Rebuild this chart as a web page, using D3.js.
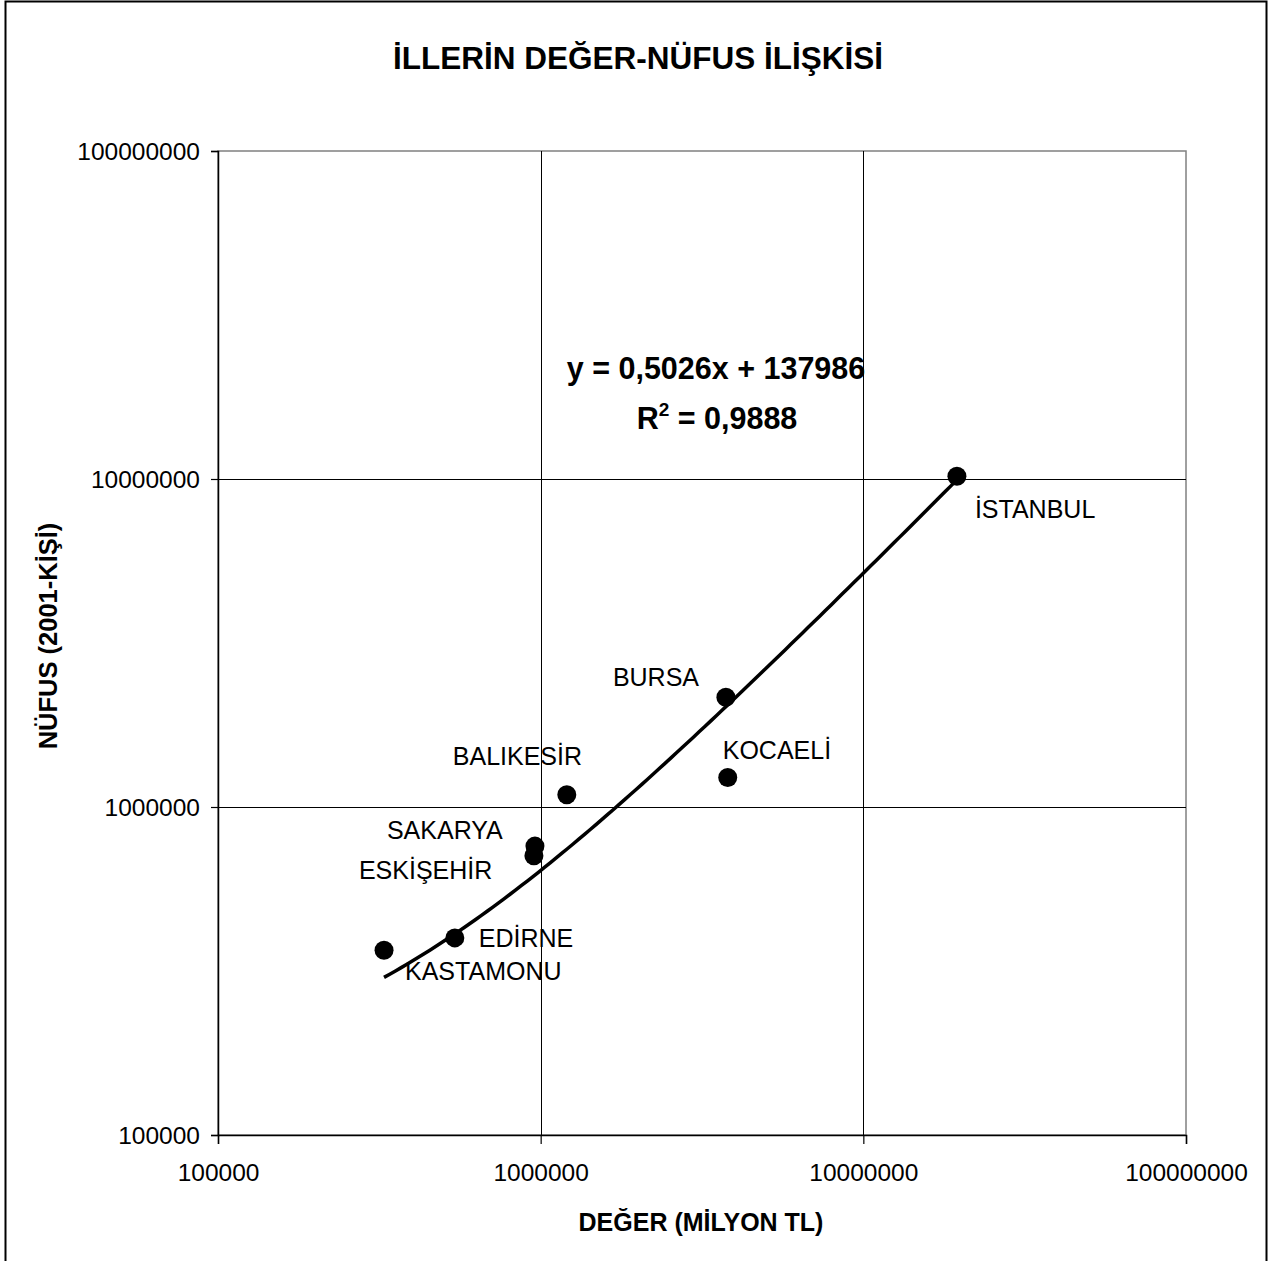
<!DOCTYPE html>
<html>
<head>
<meta charset="utf-8">
<script src="https://cdn.jsdelivr.net/npm/d3@7"></script>
<style>
  body { margin: 0; background: #fff; }
  svg { font-family: "Liberation Sans", Arial, sans-serif; }
</style>
</head>
<body>
<div id="chart"></div>
<script>
// data
const cities = ["İSTANBUL", "BURSA", "KOCAELİ", "BALIKESİR", "SAKARYA", "ESKİŞEHİR", "EDİRNE", "KASTAMONU"]
const deger = [19500000, 3750000, 3800000, 1205000, 960000, 953000, 542000, 327000]
const nufus = [10200000, 2160000, 1230000, 1090000, 760000, 710000, 399000, 366000]
const tickValues = [100000, 1000000, 10000000, 100000000]
// trendline from the chart's own equation
const slope = 0.5026
const intercept = 137986
const r2 = "0,9888"

// label offsets (px) from each point
const labelOffsets = {
  "İSTANBUL": [18, 42], "BURSA": [-113, -11], "KOCAELİ": [-5, -19],
  "BALIKESİR": [-114, -30], "SAKARYA": [-148, -7], "ESKİŞEHİR": [-175, 23],
  "EDİRNE": [24, 9], "KASTAMONU": [21, 30]
}

const width = 1274
const height = 1261
const margin = {top: 151, left: 218, right: 1274 - 1186, bottom: 1261 - 1135}
const boundedWidth = width - margin.left - margin.right
const boundedHeight = height - margin.top - margin.bottom

const svg = d3.select("#chart").append("svg")
  .attr("width", width)
  .attr("height", height)

// outer frame
svg.append("rect")
  .attr("x", 5.5).attr("y", 1.5)
  .attr("width", 1261).attr("height", 1280)
  .attr("fill", "none").attr("stroke", "#000").attr("stroke-width", 2)

const bounds = svg.append("g")
  .attr("transform", `translate(${margin.left},${margin.top})`)

const xScale = d3.scaleLog().domain([1e5, 1e8]).range([0, boundedWidth])
const yScale = d3.scaleLog().domain([1e5, 1e8]).range([boundedHeight, 0])

// plot border (top/right gray)
bounds.append("rect")
  .attr("x", 0).attr("y", 0)
  .attr("width", boundedWidth).attr("height", boundedHeight)
  .attr("fill", "none").attr("stroke", "#808080").attr("stroke-width", 1.5)

// grid
bounds.selectAll(".vgrid").data(tickValues.slice(1, -1)).join("line")
  .attr("x1", d => Math.round(xScale(d)) + 0.5).attr("x2", d => Math.round(xScale(d)) + 0.5)
  .attr("y1", 0).attr("y2", boundedHeight)
  .attr("stroke", "#000").attr("stroke-width", 1)
bounds.selectAll(".hgrid").data(tickValues.slice(1, -1)).join("line")
  .attr("y1", d => Math.round(yScale(d)) + 0.5).attr("y2", d => Math.round(yScale(d)) + 0.5)
  .attr("x1", 0).attr("x2", boundedWidth)
  .attr("stroke", "#000").attr("stroke-width", 1)

// axes
const fmt = d3.format("d")
const xAxis = bounds.append("g")
  .attr("transform", `translate(0,${boundedHeight})`)
  .call(d3.axisBottom(xScale).tickValues(tickValues).tickFormat(fmt).tickSize(9).tickPadding(20))
const yAxis = bounds.append("g")
  .call(d3.axisLeft(yScale).tickValues(tickValues).tickFormat(fmt).tickSize(7).tickPadding(11))
;[xAxis, yAxis].forEach(a => {
  a.select(".domain").attr("stroke", "#000").attr("stroke-width", 1.5)
  a.selectAll(".tick line").attr("stroke", "#000").attr("stroke-width", 1.2)
  a.selectAll("text").attr("fill", "#000")
    .style("font-size", "24.5px").style("font-family", "Liberation Sans, Arial, sans-serif")
})
yAxis.selectAll("text").attr("dy", "0.35em")

// trendline
const xMin = d3.min(deger), xMax = d3.max(deger)
const trendX = d3.range(0, 101).map(i => xMin * Math.pow(xMax / xMin, i / 100))
const line = d3.line()
  .x(d => xScale(d))
  .y(d => yScale(slope * d + intercept))
bounds.append("path")
  .attr("d", line(trendX))
  .attr("fill", "none").attr("stroke", "#000").attr("stroke-width", 3.5)

// points
bounds.selectAll(".pt").data(cities).join("circle")
  .attr("cx", (d, i) => xScale(deger[i]))
  .attr("cy", (d, i) => yScale(nufus[i]))
  .attr("r", 9.5)
  .attr("fill", "#000")

// labels
bounds.selectAll(".lbl").data(cities).join("text")
  .attr("x", (d, i) => xScale(deger[i]) + labelOffsets[d][0])
  .attr("y", (d, i) => yScale(nufus[i]) + labelOffsets[d][1])
  .style("font-size", "25px")
  .text(d => d)

// equation
const eq = bounds.append("text")
  .attr("x", 716 - margin.left).attr("y", 379 - margin.top)
  .attr("text-anchor", "middle")
  .style("font-size", "30.5px").style("font-weight", "bold")
  .text(`y = ${String(slope).replace(".", ",")}x + ${intercept}`)
const r2t = bounds.append("text")
  .attr("x", 717 - margin.left).attr("y", 429 - margin.top)
  .attr("text-anchor", "middle")
  .style("font-size", "30.5px").style("font-weight", "bold")
r2t.append("tspan").text("R")
r2t.append("tspan").attr("dy", -13).style("font-size", "19px").text("2")
r2t.append("tspan").attr("dy", 13).text(` = ${r2}`)

// title
svg.append("text")
  .attr("x", 638).attr("y", 69)
  .attr("text-anchor", "middle")
  .style("font-size", "31.5px").style("font-weight", "bold")
  .text("İLLERİN DEĞER-NÜFUS İLİŞKİSİ")

// axis titles
svg.append("text")
  .attr("x", 701).attr("y", 1231)
  .attr("text-anchor", "middle")
  .style("font-size", "25px").style("font-weight", "bold")
  .text("DEĞER (MİLYON TL)")
svg.append("text")
  .attr("transform", `translate(57,${636}) rotate(-90)`)
  .attr("text-anchor", "middle")
  .style("font-size", "25.5px").style("font-weight", "bold")
  .text("NÜFUS (2001-KİŞİ)")
</script>
</body>
</html>
